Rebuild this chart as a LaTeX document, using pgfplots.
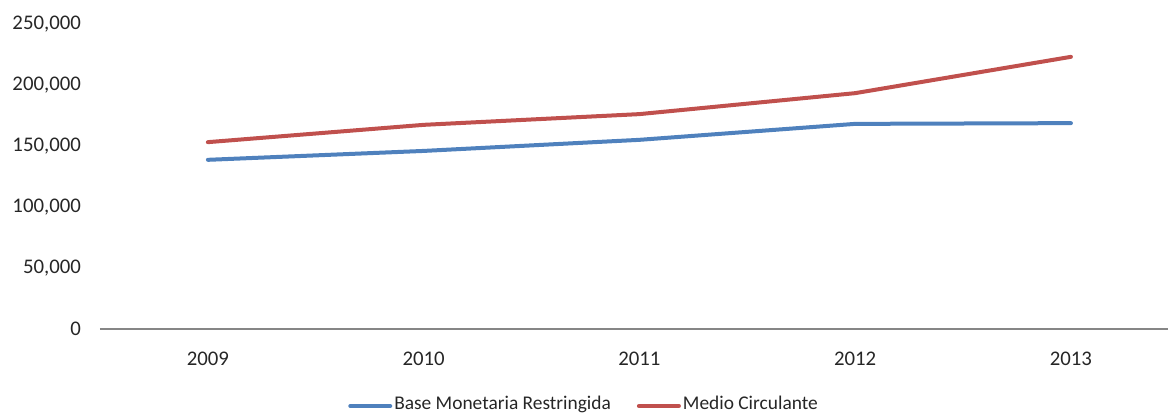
\documentclass[border=0pt]{standalone}
\usepackage{fontspec}
\setmainfont{Carlito}
\usepackage{pgfplots}
\pgfplotsset{compat=1.18}
\definecolor{serieA}{HTML}{4F81BD}
\definecolor{serieB}{HTML}{C0504D}
\definecolor{ejegris}{HTML}{868686}
\definecolor{texto}{HTML}{262626}

\begin{document}
\begin{tikzpicture}[font=\fontsize{10.4}{12.5}\selectfont]
  \begin{axis}[
    scale only axis,
    width=534pt, height=152.35pt,
    xmin=-0.5, xmax=4.45,
    ymin=0, ymax=250000,
    xtick={0,1,2,3,4},
    xticklabels={2009,2010,2011,2012,2013},
    ytick={0,50000,100000,150000,200000,250000},
    yticklabels={0,{50,000},{100,000},{150,000},{200,000},{250,000}},
    scaled y ticks=false,
    axis lines*=left,
    y axis line style={draw=none},
    x axis line style={-, draw=ejegris, line width=1pt},
    major tick length=0pt,
    tick label style={text=texto},
    yticklabel style={xshift=-6pt},
    xticklabel style={yshift=-8pt},
    legend columns=2,
    legend style={at={(0.4532,-0.2461)}, anchor=center, draw=none, fill=none,
      inner sep=0pt, nodes={inner sep=1pt, text=texto},
      font=\fontsize{9.7}{11.6}\selectfont,
      /tikz/every even column/.append style={column sep=12pt}},
    legend cell align=left,
    legend image code/.code={\draw[#1] (0pt,-1pt) -- (20pt,-1pt);},
    every axis plot/.append style={line width=2pt, line cap=round, line join=round},
  ]
    \addplot[serieA] coordinates {(0,138800) (1,146100) (2,155200) (3,168300) (4,168900)};
    \addplot[serieB] coordinates {(0,153300) (1,167500) (2,176300) (3,193500) (4,223300)};
    \legend{Base Monetaria Restringida, Medio Circulante}
  \end{axis}
  \pgfresetboundingbox
  \path[use as bounding box] ([shift={(-50pt,-43pt)}]current axis.south west)
    rectangle ([shift={(0pt,12.15pt)}]current axis.north east);
\end{tikzpicture}
\end{document}
